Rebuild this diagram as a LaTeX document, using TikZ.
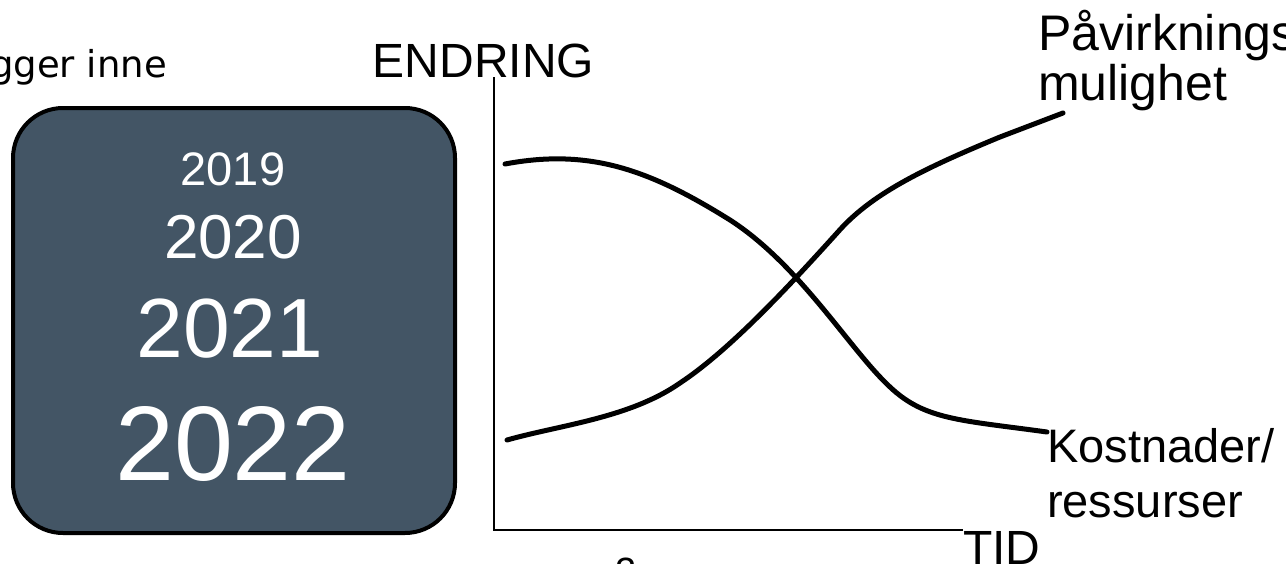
\documentclass[tikz,border=0pt]{standalone}
\usepackage{fontspec}
\setmainfont{Liberation Sans}
\newfontfamily\notefont{DejaVu Sans}
\definecolor{boxcolor}{HTML}{435565}
\definecolor{ink}{HTML}{000000}
\tikzset{
  yearbox/.style={
    draw=ink,
    line width=4pt,
    fill=boxcolor,
    rounded corners=50pt,
    minimum width=442pt,
    minimum height=425pt
  },
  yeartext/.style={text=white, inner sep=0pt, anchor=base},
  plaintext/.style={text=ink, inner sep=0pt, anchor=base west},
  axisline/.style={draw=ink, line width=1.8pt},
  trendcurve/.style={draw=ink, line width=5pt, line cap=round}
}

\begin{document}
\begin{tikzpicture}[x=1pt, y=-1pt]
  \useasboundingbox (0,0) rectangle (1286,563);
  % left box with the years
  \node[plaintext, anchor=base east] (inne) at (167,77) {\notefont\fontsize{37}{42}\selectfont Ligger inne};
  \node[yearbox] (years) at (234,320.5) {};
  \node[yeartext] (y19) at (233,185) {\fontsize{47}{52}\selectfont 2019};
  \node[yeartext] (y20) at (233,258) {\fontsize{62}{68}\selectfont 2020};
  \node[yeartext] (y21) at (230,357) {\fontsize{84}{92}\selectfont 2021};
  \node[yeartext] (y22) at (233,480) {\fontsize{106}{116}\selectfont 2022};
  % axes
  \node[plaintext, anchor=base] (endring) at (483.5,77) {\fontsize{48}{55}\selectfont ENDRING};
  \node[plaintext] (tid) at (963,564.5) {\fontsize{48}{55}\selectfont TID};
  \coordinate (top) at (494,77);
  \coordinate (corner) at (494,530);
  \coordinate (end) at (963,530);
  \draw[axisline] (top) -- (corner) -- (end);
  % curve labels
  \node[plaintext] (pav) at (1038,50) {\fontsize{50}{55}\selectfont Påvirknings-};
  \node[plaintext] (mul) at (1038,100) {\fontsize{50}{55}\selectfont mulighet};
  \node[plaintext] (kost) at (1047,462) {\fontsize{47}{55}\selectfont Kostnader/};
  \node[plaintext] (res) at (1047,517) {\fontsize{47}{55}\selectfont ressurser};
  \node[plaintext, anchor=base] (page) at (626,584) {\fontsize{38}{42}\selectfont 2};
  % curves
  \coordinate (kstart) at (505,164);
  \coordinate (kend) at (1047,432);
  \coordinate (pstart) at (507,440);
  \coordinate (pend) at (1063,113);
  \draw[trendcurve] (kstart) .. controls (590,148) and (650,170) .. (730,220)
    .. controls (800,265) and (850,350) .. (890,387)
    .. controls (925,420) and (960,420) .. (kend);
  \draw[trendcurve] (pstart) .. controls (560,425) and (630,418) .. (680,383)
    .. controls (730,350) and (790,285) .. (837,233)
    .. controls (870,195) and (920,170) .. (1000,137) -- (pend);
\end{tikzpicture}
\end{document}
